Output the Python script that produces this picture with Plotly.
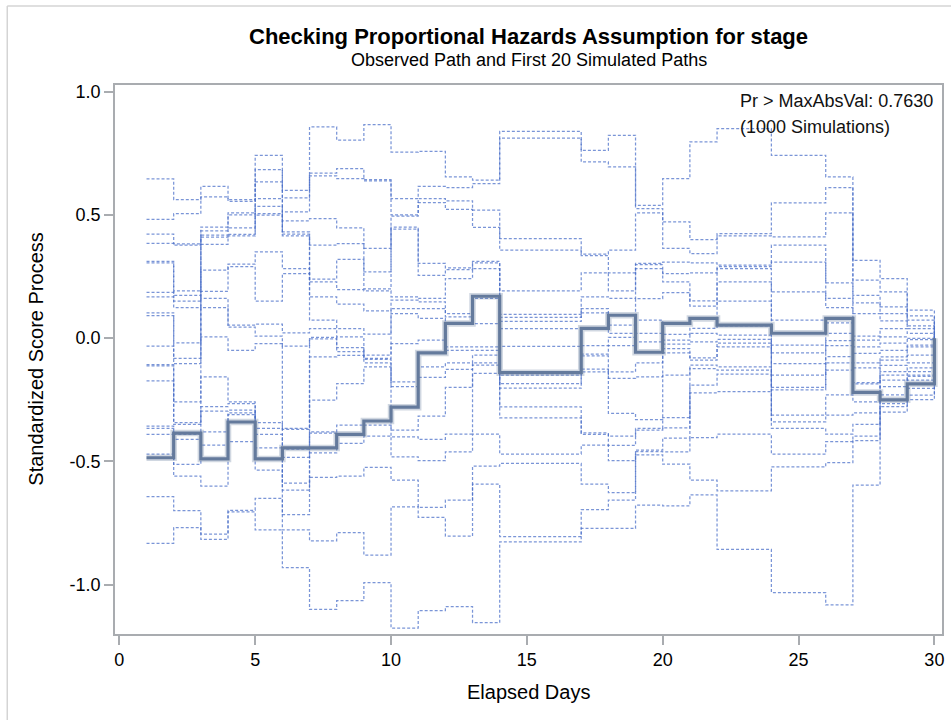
import plotly.graph_objects as go

# Days at which the score process can jump (start of each step) plus the end day
event_days = [1, 2, 3, 4, 5, 6, 7, 8, 9, 10, 11, 12, 13, 14, 17, 18, 19, 20,
              21, 22, 24, 26, 27, 28, 29, 30]

# Observed standardized score process for stage
observed_path = [-0.485, -0.385, -0.49, -0.34, -0.49, -0.445, -0.445, -0.39, -0.336,
                 -0.28, -0.06, 0.06, 0.17, -0.14, 0.04, 0.093, -0.057, 0.06, 0.08,
                 0.053, 0.02, 0.08, -0.22, -0.25, -0.185, 0.0]

# First 20 simulated paths
sim_01 = [0.646, 0.562, 0.616, 0.562, 0.742, 0.6, 0.857, 0.803, 0.866, 0.755, 0.758, 0.654, 0.641,
          0.839, 0.762, 0.823, 0.539, 0.647, 0.796, 0.85, 0.742, 0.654, 0.316, 0.242, 0.114, 0.0]
sim_02 = [0.482, 0.505, 0.573, 0.555, 0.684, 0.569, 0.67, 0.688, 0.643, 0.566, 0.616, 0.611, 0.627,
          0.812, 0.715, 0.695, 0.526, 0.472, 0.4, 0.424, 0.549, 0.611, 0.235, 0.188, 0.09, 0.0]
sim_03 = [0.422, 0.383, 0.451, 0.508, 0.634, 0.512, 0.658, 0.647, 0.638, 0.5, 0.566, 0.557, 0.519,
          0.404, 0.341, 0.357, 0.508, 0.364, 0.343, 0.415, 0.411, 0.508, 0.174, 0.127, 0.073, 0.0]
sim_04 = [0.385, 0.377, 0.435, 0.5, 0.566, 0.476, 0.485, 0.447, 0.364, 0.495, 0.55, 0.522, 0.449,
          0.357, 0.335, 0.265, 0.303, 0.309, 0.305, 0.296, 0.377, 0.224, 0.143, 0.1, 0.05, 0.0]
sim_05 = [0.312, 0.192, 0.418, 0.447, 0.535, 0.431, 0.377, 0.384, 0.269, 0.45, 0.303, 0.285, 0.312,
          0.192, 0.265, 0.192, 0.298, 0.262, 0.265, 0.29, 0.309, 0.161, 0.1, 0.07, 0.039, 0.0]
sim_06 = [0.305, 0.174, 0.41, 0.421, 0.505, 0.422, 0.24, 0.32, 0.2, 0.442, 0.255, 0.278, 0.305,
          0.097, 0.168, 0.161, 0.282, 0.228, 0.151, 0.282, 0.188, 0.124, 0.008, 0.039, 0.019, 0.0]
sim_07 = [0.186, 0.15, 0.381, 0.415, 0.499, 0.415, 0.228, 0.197, 0.192, 0.168, 0.161, 0.242, 0.282,
          0.084, 0.12, 0.093, 0.16, 0.185, 0.13, 0.228, 0.073, 0.08, -0.008, 0.005, -0.001, 0.0]
sim_08 = [0.168, 0.124, 0.276, 0.3, 0.35, 0.282, 0.168, 0.138, 0.111, 0.154, 0.147, 0.1, 0.17,
          0.068, 0.103, 0.053, 0.073, 0.06, 0.08, 0.15, 0.02, 0.062, -0.035, -0.02, -0.006, 0.0]
sim_09 = [0.103, -0.019, 0.19, 0.29, 0.15, 0.262, 0.073, 0.039, 0.016, 0.12, 0.12, 0.086, 0.161,
          0.039, 0.04, 0.019, 0.019, 0.015, 0.04, 0.05, -0.028, 0.02, -0.062, -0.049, -0.028, 0.0]
sim_10 = [0.092, -0.082, 0.161, 0.053, 0.057, 0.022, 0.039, 0.005, -0.069, 0.1, 0.08, 0.06, 0.059,
          -0.033, -0.03, 0.003, -0.015, -0.008, 0.019, 0.012, -0.06, -0.01, -0.1, -0.076, -0.035, 0.0]
sim_11 = [-0.032, -0.103, 0.124, 0.045, 0.008, -0.032, 0.003, -0.038, -0.082, -0.022, -0.008, -0.035,
          -0.035, -0.14, -0.065, -0.03, -0.057, -0.024, -0.015, -0.005, -0.103, -0.03, -0.12, -0.089,
          -0.069, 0.0]
sim_12 = [-0.107, -0.258, 0.005, -0.049, -0.022, -0.366, -0.003, -0.055, -0.086, -0.177, -0.06, -0.049,
          -0.049, -0.15, -0.072, -0.137, -0.1, -0.042, -0.08, -0.02, -0.15, -0.075, -0.18, -0.11,
          -0.1, 0.0]
sim_13 = [-0.112, -0.343, -0.157, -0.258, -0.343, -0.37, -0.076, -0.07, -0.1, -0.197, -0.116, -0.1,
          -0.069, -0.184, -0.126, -0.163, -0.157, -0.06, -0.089, -0.035, -0.2, -0.1, -0.185, -0.136,
          -0.12, 0.0]
sim_14 = [-0.173, -0.35, -0.278, -0.265, -0.366, -0.45, -0.251, -0.184, -0.116, -0.28, -0.159, -0.127,
          -0.1, -0.203, -0.137, -0.305, -0.33, -0.15, -0.109, -0.116, -0.21, -0.13, -0.22, -0.15,
          -0.136, 0.0]
sim_15 = [-0.357, -0.39, -0.296, -0.292, -0.39, -0.484, -0.38, -0.353, -0.336, -0.373, -0.316, -0.2,
          -0.109, -0.279, -0.384, -0.397, -0.366, -0.322, -0.123, -0.13, -0.312, -0.23, -0.258, -0.17,
          -0.15, 0.0]
sim_16 = [-0.366, -0.41, -0.38, -0.303, -0.445, -0.588, -0.385, -0.39, -0.353, -0.4, -0.41, -0.389,
          -0.143, -0.323, -0.39, -0.435, -0.373, -0.364, -0.19, -0.146, -0.339, -0.312, -0.303, -0.197,
          -0.155, 0.0]
sim_17 = [-0.39, -0.512, -0.434, -0.31, -0.49, -0.616, -0.465, -0.427, -0.397, -0.481, -0.497, -0.461,
          -0.389, -0.47, -0.434, -0.497, -0.454, -0.405, -0.222, -0.217, -0.366, -0.389, -0.35, -0.23,
          -0.17, 0.0]
sim_18 = [-0.47, -0.56, -0.6, -0.42, -0.535, -0.716, -0.565, -0.56, -0.524, -0.576, -0.686, -0.657,
          -0.519, -0.508, -0.592, -0.627, -0.46, -0.461, -0.403, -0.389, -0.47, -0.42, -0.397, -0.265,
          -0.204, 0.0]
sim_19 = [-0.643, -0.70, -0.795, -0.698, -0.65, -0.778, -0.822, -0.789, -0.88, -0.684, -0.727, -0.803,
          -0.592, -0.805, -0.695, -0.657, -0.473, -0.511, -0.576, -0.619, -0.522, -0.505, -0.416, -0.278,
          -0.231, 0.0]
sim_20 = [-0.832, -0.768, -0.816, -0.705, -0.778, -0.931, -1.1, -1.065, -0.992, -1.176, -1.105, -1.089,
          -1.154, -0.826, -0.772, -0.772, -0.677, -0.68, -0.636, -0.857, -1.032, -1.082, -0.596, -0.3,
          -0.249, 0.0]

simulated_paths = [sim_01, sim_02, sim_03, sim_04, sim_05, sim_06, sim_07, sim_08, sim_09, sim_10,
                   sim_11, sim_12, sim_13, sim_14, sim_15, sim_16, sim_17, sim_18, sim_19, sim_20]

x_ticks = [0, 5, 10, 15, 20, 25, 30]
y_ticks = [-1.0, -0.5, 0.0, 0.5, 1.0]
y_tick_labels = ["-1.0", "-0.5", "0.0", "0.5", "1.0"]

FONT = "Liberation Sans, Arial, Helvetica, sans-serif"
SIM_COLOR = "rgba(70, 108, 200, 0.72)"
OBS_CORE = "rgb(100, 122, 156)"
OBS_HALO = "rgba(100, 122, 156, 0.3)"
FRAME = "#a9acb0"

fig = go.Figure()

for path in simulated_paths:
    fig.add_trace(go.Scatter(
        x=event_days, y=path, mode="lines", line_shape="hv",
        line=dict(color=SIM_COLOR, width=1.25, dash="3px,2px"),
        hoverinfo="skip", showlegend=False,
    ))

# observed path: soft halo under a thick core line
fig.add_trace(go.Scatter(
    x=event_days, y=observed_path, mode="lines", line_shape="hv",
    line=dict(color=OBS_HALO, width=6.5), hoverinfo="skip", showlegend=False,
))
fig.add_trace(go.Scatter(
    x=event_days, y=observed_path, mode="lines", line_shape="hv",
    line=dict(color=OBS_CORE, width=3.2), showlegend=False,
))

# pixel -> paper helpers for the fixed 952x720 canvas
L, R, T, B = 115, 8, 85, 86
W, H = 952, 720
pw, ph = W - L - R, H - T - B


def px(xp):
    return (xp - L) / pw


def py(yp):
    return (H - B - yp) / ph


annotations = [
    dict(text="<b>Checking Proportional Hazards Assumption for stage</b>",
         x=0.5, y=py(37), xref="paper", yref="paper", showarrow=False,
         xanchor="center", yanchor="middle", font=dict(size=22, color="#000000", family=FONT)),
    dict(text="Observed Path and First 20 Simulated Paths",
         x=0.5, y=py(60), xref="paper", yref="paper", showarrow=False,
         xanchor="center", yanchor="middle", font=dict(size=18, color="#000000", family=FONT)),
    dict(text="Pr &gt; MaxAbsVal: 0.7630",
         x=px(740), y=py(101), xref="paper", yref="paper", showarrow=False,
         xanchor="left", yanchor="middle", font=dict(size=18, color="#111111", family=FONT)),
    dict(text="(1000 Simulations)",
         x=px(740), y=py(127), xref="paper", yref="paper", showarrow=False,
         xanchor="left", yanchor="middle", font=dict(size=18, color="#111111", family=FONT)),
    dict(text="Elapsed Days",
         x=0.5, y=py(692), xref="paper", yref="paper", showarrow=False,
         xanchor="center", yanchor="middle", font=dict(size=20, color="#000000", family=FONT)),
    dict(text="Standardized Score Process", textangle=-90,
         x=px(35), y=0.5, xref="paper", yref="paper", showarrow=False,
         xanchor="center", yanchor="middle", font=dict(size=20, color="#000000", family=FONT)),
]

# light outer frame around the graph
shapes = [
    dict(type="line", xref="paper", yref="paper", x0=px(7), x1=px(953), y0=py(6), y1=py(6),
         line=dict(color="#d4d4d4", width=1.5)),
    dict(type="line", xref="paper", yref="paper", x0=px(7), x1=px(7), y0=py(6), y1=py(721),
         line=dict(color="#d4d4d4", width=1.5)),
]

fig.update_layout(
    width=W, height=H,
    margin=dict(l=L, r=R, t=T, b=B, pad=0),
    paper_bgcolor="white", plot_bgcolor="white",
    font=dict(family=FONT, size=18, color="#000000"),
    annotations=annotations, shapes=shapes,
    xaxis=dict(range=[-0.16, 30.28], tickvals=x_ticks, ticks="outside", ticklen=9,
               tickwidth=1.5, tickcolor=FRAME, showline=True, linecolor=FRAME, linewidth=1.5,
               mirror=True, showgrid=False, zeroline=False,
               tickfont=dict(size=18, family=FONT, color="#000000")),
    yaxis=dict(range=[-1.2, 1.027], tickvals=y_ticks, ticktext=y_tick_labels, ticks="outside",
               ticklen=9, tickwidth=1.5, tickcolor=FRAME, showline=True, linecolor=FRAME,
               linewidth=1.5, mirror=True, showgrid=False, zeroline=False,
               tickfont=dict(size=18, family=FONT, color="#000000")),
)

fig.write_html("out.html")
